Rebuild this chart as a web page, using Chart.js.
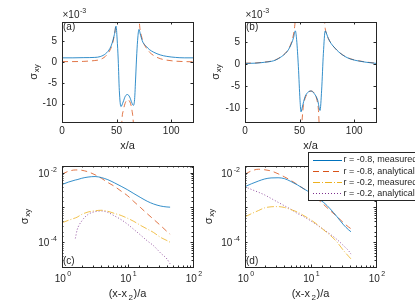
<!DOCTYPE html>
<html>
<head>
<meta charset="utf-8">
<script src="https://cdn.jsdelivr.net/npm/chart.js@4.4.0/dist/chart.umd.min.js"></script>
<style>
  body { margin: 0; background: #fff; }
  #wrap { position: relative; width: 415px; height: 305px; overflow: hidden; }
  canvas { position: absolute; }
</style>
</head>
<body>
<div id="wrap">
  <canvas id="chartA" width="207" height="150" style="left:0;top:0"></canvas>
  <canvas id="chartB" width="215" height="150" style="left:200px;top:0"></canvas>
  <canvas id="chartC" width="207" height="155" style="left:0;top:150px"></canvas>
  <canvas id="chartD" width="215" height="155" style="left:200px;top:150px"></canvas>
</div>
<script>
'use strict';

// (a) sigma_xy profile, units of 1e-3
var aMeasX = [0, 10, 20, 30, 35, 40, 44, 46, 48, 49.5, 50.5, 51.5, 52.5, 54, 56, 58, 60, 62, 64, 65.3, 66.5, 67.5, 68.5, 69.5, 70.5, 72, 74, 77, 80, 84, 90, 96, 104, 112, 120];
var aMeasY = [1.0, 1.0, 1.05, 1.1, 1.3, 2.0, 3.3, 4.6, 6.6, 8.6, 5.5, 0.5, -6.8, -10.7, -9.6, -8.2, -7.8, -8.4, -9.8, -10.4, -9.0, -3.6, 2.0, 6.0, 7.8, 6.4, 4.8, 3.8, 3.0, 2.35, 1.7, 1.35, 1.1, 1.0, 1.0];
var aAnaX = [0, 10, 20, 26, 30, 35, 41, 45.5, 47.6, 49.2, 49.9, 50, 54.2, 55, 56.2, 57.7, 59.8, 62.3, 64.1, 65.3, 65.9, 68, 70.1, 70.8, 73, 77.6, 80, 83.7, 88, 92.8, 102, 110, 120];
var aAnaY = [0.1, 0.1, 0.15, 0.25, 0.35, 0.6, 1.7, 3.8, 6.0, 9.2, 14, null, -18, -13.5, -11.6, -10.0, -9.1, -9.6, -11.6, -14.4, -18, null, 14, 9.8, 6.0, 3.2, 2.4, 1.6, 1.0, 0.6, 0.25, 0.12, 0.05];

// (b)
var bMeasX = [0, 10, 18, 24, 28, 33.6, 37, 39.7, 42.7, 44.5, 46.1, 47.3, 48.9, 50.4, 51.3, 52.5, 55, 58, 60.5, 63.5, 66.6, 68.7, 70.2, 71.8, 73.5, 74.8, 76.3, 79, 82.4, 86, 91.6, 97, 103.8, 111, 120];
var bMeasY = [0.15, 0.2, 0.4, 0.6, 0.9, 1.7, 2.4, 3.2, 4.7, 6.0, 7.5, 5.5, -0.6, -8.2, -10.8, -9.7, -7.4, -6.3, -6.1, -6.7, -8.2, -10.5, -5.9, 2.4, 7.5, 6.8, 5.8, 4.6, 3.6, 2.7, 1.7, 1.1, 0.7, 0.4, 0.15];
var bAnaX = [0, 10, 18, 24, 28, 33.6, 37, 39.7, 42.7, 44.5, 45.5, 46.4, 49, 51.6, 52.5, 53.5, 55, 58, 60.5, 63.5, 66, 67.2, 68, 70.5, 72.5, 73.5, 74.8, 76.3, 79, 82.4, 86, 91.6, 97, 103.8, 111, 120];
var bAnaY = [0.2, 0.25, 0.45, 0.65, 0.95, 1.75, 2.45, 3.3, 5.0, 6.8, 8.5, 11, null, -15, -12.0, -9.4, -7.8, -6.4, -6.1, -6.6, -8.2, -10.2, -14, null, 10.5, 8.0, 6.8, 5.8, 4.6, 3.6, 2.7, 1.75, 1.15, 0.75, 0.45, 0.2];

// (c) log-log, (x-x2)/a
var cX = [1, 1.25, 1.6, 1.7, 2, 2.5, 3.2, 4, 5, 6.3, 8, 10, 12.5, 16, 20, 25, 32, 40, 44.7];
var cMeas08 = [4.57e-3, 5.37e-3, 6.17e-3, 6.31e-3, 6.92e-3, 7.50e-3, 7.76e-3, 7.24e-3, 6.31e-3, 5.13e-3, 4.07e-3, 3.24e-3, 2.51e-3, 1.91e-3, 1.51e-3, 1.26e-3, 1.10e-3, 1.035e-3, 1.02e-3];
var cAna08 = [9.12e-3, 1.096e-2, 1.20e-2, 1.20e-2, 1.175e-2, 1.06e-2, 8.71e-3, 6.92e-3, 5.25e-3, 4.07e-3, 2.95e-3, 2.19e-3, 1.48e-3, 9.77e-4, 6.61e-4, 4.57e-4, 3.02e-4, 2.04e-4, 1.70e-4];
var cMeas02 = [3.63e-4, 4.27e-4, 5.01e-4, 5.25e-4, 6.31e-4, 7.41e-4, 8.04e-4, 8.32e-4, 7.76e-4, 6.76e-4, 5.89e-4, 4.90e-4, 3.98e-4, 3.02e-4, 2.40e-4, 1.91e-4, 1.38e-4, 1.12e-4, 1.0e-4];
var cAna02 = [null, null, 1.29e-4, 2.24e-4, 4.07e-4, 6.31e-4, 7.59e-4, 7.94e-4, 7.24e-4, 5.75e-4, 4.47e-4, 3.31e-4, 2.34e-4, 1.58e-4, 1.10e-4, 7.94e-5, 4.90e-5, 3.31e-5, 2.40e-5];

// (d)
var dX = [1, 1.25, 1.6, 2, 2.5, 3.2, 4, 5, 6.3, 8, 10, 12.5, 16, 20, 25, 32, 38, 41.5];
var dMeas08 = [3.98e-3, 4.79e-3, 5.75e-3, 6.61e-3, 7.08e-3, 7.16e-3, 6.76e-3, 5.62e-3, 4.47e-3, 3.39e-3, 2.63e-3, 1.91e-3, 1.38e-3, 9.12e-4, 5.62e-4, 3.16e-4, 2.29e-4, 2.00e-4];
var dAna08 = [9.12e-3, 1.122e-2, 1.259e-2, 1.216e-2, 1.122e-2, 9.33e-3, 7.59e-3, 6.03e-3, 4.57e-3, 3.39e-3, 2.57e-3, 1.82e-3, 1.20e-3, 8.13e-4, 5.62e-4, 3.63e-4, 2.75e-4, 2.45e-4];
var dMeas02 = [5.37e-4, 6.61e-4, 8.13e-4, 9.77e-4, 1.047e-3, 1.06e-3, 1.0e-3, 8.71e-4, 7.41e-4, 5.75e-4, 4.47e-4, 3.31e-4, 2.24e-4, 1.58e-4, 1.05e-4, 5.75e-5, 3.98e-5, 3.31e-5];
var dAna02 = [3.98e-3, 3.31e-3, 2.75e-3, 2.29e-3, 1.82e-3, 1.41e-3, 1.12e-3, 8.91e-4, 6.76e-4, 5.37e-4, 4.17e-4, 3.16e-4, 2.29e-4, 1.70e-4, 1.23e-4, 7.94e-5, 5.75e-5, 4.57e-5];

var logTicksX = [1, 10, 100];
var logTicksY = [1e-4, 1e-2];
var legendLabels = ['r = -0.8, measured', 'r = -0.8, analytical', 'r = -0.2, measured', 'r = -0.2, analytical'];

var SANS = '"Liberation Sans", Arial, Helvetica, sans-serif';
var INK = '#262626';
var styles = [
    { borderColor: '#0072BD', borderDash: [] },
    { borderColor: '#D95319', borderDash: [6, 4] },
    { borderColor: '#EDB120', borderDash: [7, 2, 1, 2] },
    { borderColor: '#7E2F8E', borderDash: [1, 2] }
];

function series(xs, ys, k) {
    var pts = xs.map(function(x, i) { return { x: x, y: ys[i] }; });
    return Object.assign({
        data: pts, borderWidth: 0.8, pointRadius: 0, fill: false,
        cubicInterpolationMode: 'monotone', spanGaps: false
    }, styles[k]);
}

// text with a small raised or lowered part
function drawParts(ctx, parts, x, y, align) {
    var w = 0;
    parts.forEach(function(p) {
        ctx.font = p.size + 'px ' + SANS;
        p.w = ctx.measureText(p.t).width + (p.gap || 0);
        w += p.w;
    });
    var cx = align === 'center' ? x - w / 2 : (align === 'right' ? x - w : x);
    ctx.textAlign = 'left';
    ctx.textBaseline = 'middle';
    parts.forEach(function(p) {
        ctx.font = p.size + 'px ' + SANS;
        ctx.fillText(p.t, cx + (p.gap || 0), y + (p.dy || 0));
        cx += p.w;
    });
}

function pow10(v) {
    return [{ t: '10', size: 10 }, { t: String(Math.round(Math.log10(v))), size: 7, dy: -4.5, gap: 1.5 }];
}

var deco = {
    id: 'deco',
    afterDraw: function(chart, args, o) {
        var ctx = chart.ctx, a = chart.chartArea;
        var sx = chart.scales.x, sy = chart.scales.y;
        var L = Math.round(a.left), T = Math.round(a.top), R = Math.round(a.right), B = Math.round(a.bottom);
        ctx.save();
        ctx.fillStyle = INK;
        ctx.strokeStyle = INK;
        ctx.lineWidth = 1;
        ctx.strokeRect(L + 0.5, T + 0.5, R - L, B - T);

        // inward tick marks on all four sides
        ctx.beginPath();
        sx.ticks.forEach(function(t) {
            var p = Math.round(sx.getPixelForValue(t.value)) + 0.5;
            if (p < L + 1 || p > R) return;
            var len = (o.log && !t.major) ? 1.5 : 2.5;
            ctx.moveTo(p, B); ctx.lineTo(p, B - len);
            ctx.moveTo(p, T); ctx.lineTo(p, T + len);
        });
        sy.ticks.forEach(function(t) {
            var p = Math.round(sy.getPixelForValue(t.value)) + 0.5;
            if (p < T + 1 || p > B) return;
            var len = (o.log && !t.major) ? 1.5 : 2.5;
            ctx.moveTo(L, p); ctx.lineTo(L + len, p);
            ctx.moveTo(R, p); ctx.lineTo(R - len, p);
        });
        ctx.stroke();

        if (o.log) {
            logTicksX.forEach(function(v) {
                drawParts(ctx, pow10(v), sx.getPixelForValue(v) + 1, B + 12, 'center');
            });
            logTicksY.forEach(function(v) {
                drawParts(ctx, pow10(v), L - 5, sy.getPixelForValue(v) + 1.5, 'right');
            });
            drawParts(ctx, [{ t: '(x-x', size: 11 }, { t: '2', size: 8, dy: 4, gap: 1.5 }, { t: ')/a', size: 11, gap: 0.5 }],
                (L + R) / 2, B + 27, 'center');
        } else {
            drawParts(ctx, [{ t: 'x/a', size: 11 }], (L + R) / 2, B + 24, 'center');
            drawParts(ctx, [{ t: '\u00d710', size: 10 }, { t: '-3', size: 7, dy: -4, gap: 0.5 }], L + 0.5, T - 6.5, 'left');
        }

        // panel letter
        drawParts(ctx, [{ t: o.letter, size: 10 }], L + 1, o.log ? B - 6 : T + 5, 'left');

        // sigma_xy, rotated
        ctx.save();
        ctx.translate(o.ylabX, (T + B) / 2);
        ctx.rotate(-Math.PI / 2);
        drawParts(ctx, [{ t: '\u03c3', size: 11 }, { t: 'xy', size: 8, dy: 3, gap: 0.5 }], 0, 0, 'center');
        ctx.restore();

        if (o.legend) {
            var bx = 108, by = 2;
            ctx.fillStyle = '#fff';
            ctx.fillRect(bx, by, 120, 48);
            ctx.strokeStyle = INK;
            ctx.strokeRect(bx + 0.5, by + 0.5, 120, 48);
            legendLabels.forEach(function(lab, i) {
                var yy = 10 + i * 11.1;
                ctx.strokeStyle = styles[i].borderColor;
                ctx.setLineDash(styles[i].borderDash);
                ctx.beginPath();
                ctx.moveTo(bx + 5, Math.round(yy) + 0.5);
                ctx.lineTo(bx + 34, Math.round(yy) + 0.5);
                ctx.stroke();
                ctx.setLineDash([]);
                ctx.fillStyle = INK;
                drawParts(ctx, [{ t: lab, size: 9 }], bx + 35.5, yy, 'left');
            });
        }
        ctx.restore();
    }
};

function makeChart(id, datasets, opt) {
    var lin = {
        grid: { display: false, drawTicks: false },
        border: { display: false },
        ticks: { color: INK, font: { family: SANS, size: 10 }, autoSkip: false, includeBounds: false, maxRotation: 0 }
    };
    var xs = {
        type: opt.log ? 'logarithmic' : 'linear', position: 'bottom',
        min: opt.xmin, max: opt.xmax,
        grid: lin.grid, border: lin.border,
        ticks: Object.assign({}, lin.ticks, { display: !opt.log, stepSize: opt.xstep, padding: 3 }),
        afterFit: function(s) { s.height = opt.xh; }
    };
    var ys = {
        type: opt.log ? 'logarithmic' : 'linear', position: 'left',
        min: opt.ymin, max: opt.ymax,
        grid: lin.grid, border: lin.border,
        ticks: Object.assign({}, lin.ticks, { display: !opt.log, stepSize: opt.ystep, padding: 5 }),
        afterFit: function(s) { s.width = opt.yw; }
    };
    return new Chart(document.getElementById(id), {
        type: 'line',
        data: { datasets: datasets },
        options: {
            responsive: false,
            animation: false,
            events: [],
            layout: { padding: opt.pad },
            plugins: {
                legend: { display: false },
                tooltip: { enabled: false },
                deco: opt.deco
            },
            scales: { x: xs, y: ys }
        },
        plugins: [deco]
    });
}

makeChart('chartA', [series(aMeasX, aMeasY, 0), series(aAnaX, aAnaY, 1)], {
    xmin: 0, xmax: 120, xstep: 50, ymin: -14.4, ymax: 9.6, ystep: 5,
    xh: 28, yw: 62, pad: { left: 0, top: 22, right: 14, bottom: 0 },
    deco: { letter: '(a)', ylabX: 34 }
});

makeChart('chartB', [series(bMeasX, bMeasY, 0), series(bAnaX, bAnaY, 1)], {
    xmin: 0, xmax: 120, xstep: 50, ymin: -13.1, ymax: 9.5, ystep: 5,
    xh: 28, yw: 45, pad: { left: 0, top: 22, right: 39, bottom: 0 },
    deco: { letter: '(b)', ylabX: 16 }
});

makeChart('chartC', [series(cX, cMeas08, 0), series(cX, cAna08, 1), series(cX, cMeas02, 2), series(cX, cAna02, 3)], {
    log: true, xmin: 1, xmax: 100, ymin: 1.94e-5, ymax: 1.56e-2,
    xh: 38, yw: 62, pad: { left: 0, top: 16, right: 14, bottom: 0 },
    deco: { letter: '(c)', ylabX: 25, log: true }
});

makeChart('chartD', [series(dX, dMeas08, 0), series(dX, dAna08, 1), series(dX, dMeas02, 2), series(dX, dAna02, 3)], {
    log: true, xmin: 1, xmax: 100, ymin: 1.94e-5, ymax: 1.56e-2,
    xh: 38, yw: 45, pad: { left: 0, top: 16, right: 39, bottom: 0 },
    deco: { letter: '(d)', ylabX: 9, log: true, legend: true }
});
</script>
</body>
</html>
